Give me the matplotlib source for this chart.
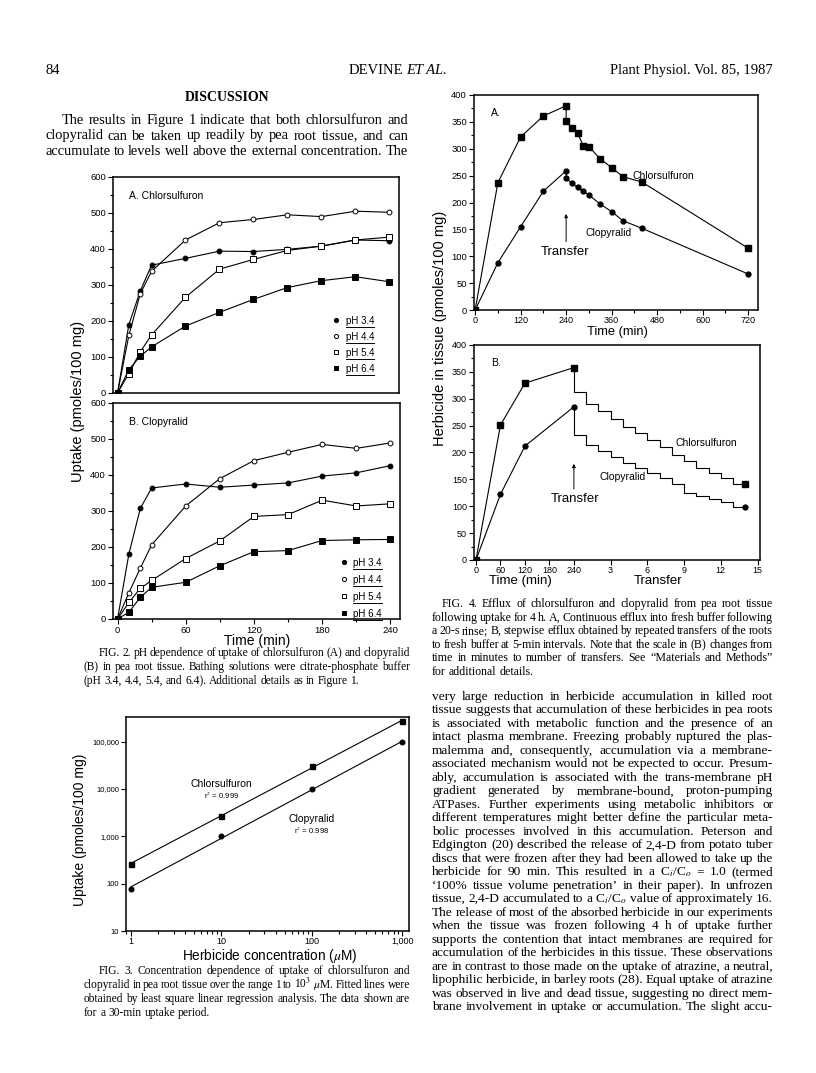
import matplotlib
matplotlib.use("Agg")
import matplotlib.pyplot as plt
import numpy as np
from matplotlib.lines import Line2D
from matplotlib.ticker import MultipleLocator, FuncFormatter, NullLocator, LogLocator, NullFormatter

plt.rcParams['font.family'] = ['Liberation Sans', 'DejaVu Sans']
plt.rcParams['mathtext.fontset'] = 'stix'
SERIF = ['Liberation Serif', 'DejaVu Serif']

# ---------------- data: Fig. 2 (uptake vs time, 4 pH values) ----------------
t2 = [0, 10, 20, 30, 60, 90, 120, 150, 180, 210, 240]
chl_ph34 = [0, 190, 283, 355, 374, 394, 393, 399, 408, 425, 423]
chl_ph44 = [0, 160, 275, 338, 425, 473, 482, 495, 490, 505, 502]
chl_ph54 = [0, 54, 114, 161, 266, 344, 371, 396, 408, 425, 433]
chl_ph64 = [0, 65, 102, 128, 186, 224, 260, 293, 312, 323, 309]
clo_ph34 = [0, 181, 307, 364, 375, 366, 372, 378, 397, 406, 426]
clo_ph44 = [0, 73, 141, 206, 314, 390, 440, 463, 485, 474, 489]
clo_ph54 = [0, 46, 85, 107, 168, 217, 285, 290, 330, 314, 320]
clo_ph64 = [0, 19, 60, 88, 102, 148, 187, 190, 218, 220, 221]
ph_labels = ["pH 3.4", "pH 4.4", "pH 5.4", "pH 6.4"]

# ---------------- data: Fig. 3 (concentration dependence) ----------------
conc = [1, 10, 100, 1000]
chl_conc = [260, 2700, 30000, 270000]
clo_conc = [78, 1000, 10000, 96000]

# ---------------- data: Fig. 4A (continuous efflux) ----------------
t4a = [0, 60, 120, 180, 240, 240, 255, 270, 285, 300, 330, 360, 390, 440, 720]
chl_4a = [0, 237, 322, 361, 380, 352, 338, 329, 306, 304, 281, 265, 248, 238, 115]
clo_4a = [0, 88, 155, 221, 259, 245, 236, 228, 221, 214, 197, 183, 166, 152, 67]

# ---------------- data: Fig. 4B (stepwise efflux) ----------------
t4b = [0, 60, 120, 240]
chl_4b_up = [0, 251, 329, 358]
clo_4b_up = [0, 122, 212, 285]
transfers = list(range(1, 15))
chl_4b_steps = [313, 290, 277, 262, 248, 236, 223, 210, 195, 184, 172, 161, 152, 141]
clo_4b_steps = [232, 214, 203, 191, 181, 172, 161, 152, 141, 125, 119, 113, 107, 99]

W, H = 816, 1073
fig = plt.figure(figsize=(W / 100, H / 100), dpi=100)
fig.patch.set_facecolor('white')
renderer = fig.canvas.get_renderer()


def px_axes(l, t, r, b):
    return fig.add_axes([l / W, 1 - b / H, (r - l) / W, (b - t) / H])


def ftext(x, y, s, **kw):
    return fig.text(x / W, 1 - y / H, s, **kw)


def word_widths(words, size, family):
    objs = [ftext(0, 0, w, fontsize=size, family=family) for w in words]
    ws = [o.get_window_extent(renderer).width for o in objs]
    for o in objs:
        o.remove()
    return ws


def justify_block(lines, x0, x1, y0, step, size, indent=0, last_free=True, family=SERIF, min_gap=1.8):
    # one font size for the whole block: the largest that lets every justified line fit
    n = len(lines)
    while True:
        ok = True
        for k, ln in enumerate(lines):
            if last_free and k == n - 1:
                continue
            words = ln.split(' ')
            free = x1 - x0 - (indent if k == 0 else 0) - sum(word_widths(words, size, family))
            if free / max(len(words) - 1, 1) < min_gap:
                ok = False
                break
        if ok:
            break
        size -= 0.1
    for k, ln in enumerate(lines):
        words = ln.split(' ')
        ws = word_widths(words, size, family)
        start = x0 + (indent if k == 0 else 0)
        if last_free and k == n - 1:
            gap = size * 100 / 72 * 0.25
        else:
            gap = (x1 - start - sum(ws)) / (len(words) - 1)
        x = start
        for w, wd in zip(words, ws):
            ftext(x, y0 + step * k, w, fontsize=size, family=family, va='baseline')
            x += wd + gap


def style_box(ax, lw=1.1, labelsize=6.8):
    for s in ax.spines.values():
        s.set_linewidth(lw)
    ax.tick_params(which='both', direction='out', top=False, right=False, labelsize=labelsize, width=0.8, pad=1.5)
    ax.tick_params(which='major', length=3.5)
    ax.tick_params(which='minor', length=2)


line_kw = dict(color='black', lw=0.8)
ms = 3.5

# ---------------- Fig. 2 ----------------
fig2_sets = [(chl_ph34, chl_ph44, chl_ph54, chl_ph64), (clo_ph34, clo_ph44, clo_ph54, clo_ph64)]
fig2_boxes = [(113, 177, 399, 393), (113, 403, 400, 619)]
fig2_titles = ["A. Chlorsulfuron", "B. Clopyralid"]
markers = [('o', 'black'), ('o', 'white'), ('s', 'white'), ('s', 'black')]
legend_pos = [(0.745, 0.38, 0.62), (0.77, 0.306, 0.72)]
legends = []
for i, (series, box) in enumerate(zip(fig2_sets, fig2_boxes)):
    ax = px_axes(*box)
    for vals, (m, fc) in zip(series, markers):
        ax.plot(t2, vals, marker=m, mfc=fc, mec='black', ms=ms if m == 'o' else ms + 0.3, mew=0.7, **line_kw)
    ax.set_xlim(-4, 248.5)
    ax.set_ylim(0, 600)
    ax.yaxis.set_major_locator(MultipleLocator(100))
    ax.yaxis.set_minor_locator(MultipleLocator(50))
    style_box(ax)
    if i == 0:
        ax.xaxis.set_major_locator(NullLocator())
    else:
        ax.xaxis.set_major_locator(MultipleLocator(60))
        ax.xaxis.set_minor_locator(MultipleLocator(30))
    ax.text(0.055, 0.9, fig2_titles[i], transform=ax.transAxes, fontsize=7.5)
    handles = [Line2D([], [], ls='none', marker=m, mfc=fc, mec='black', ms=3, mew=0.7) for m, fc in markers]
    lx, ly, sp = legend_pos[i]
    leg = ax.legend(handles, ph_labels, loc='upper left', bbox_to_anchor=(lx, ly), frameon=False,
                    borderpad=0, handlelength=1.0, handletextpad=0.5, labelspacing=sp, fontsize=7)
    legends.append(leg)

ftext(78, 401, "Uptake (pmoles/100 mg)", rotation=90, ha='center', va='center', fontsize=10.5)
ftext(257, 641, "Time (min)", ha='center', va='center', fontsize=10)

# ---------------- Fig. 3 ----------------
ax3 = px_axes(126, 717, 409, 931)
ax3.loglog(conc, chl_conc, ls='none', marker='s', color='black', ms=3.6)
ax3.loglog(conc, clo_conc, ls='none', marker='o', color='black', ms=3.3)
xfit = np.array([1, 1000])
for yv in (chl_conc, clo_conc):
    p = np.polyfit(np.log10(conc), np.log10(yv), 1)
    ax3.loglog(xfit, 10 ** np.polyval(p, np.log10(xfit)), **line_kw)
ax3.set_xlim(0.89, 1180)
ax3.set_ylim(10, 3.3e5)
style_box(ax3)
ax3.xaxis.set_major_locator(LogLocator(base=10, numticks=10))
ax3.xaxis.set_minor_locator(LogLocator(base=10, subs=np.arange(2, 10), numticks=10))
ax3.xaxis.set_minor_formatter(NullFormatter())
ax3.xaxis.set_major_formatter(FuncFormatter(lambda v, p: f"{int(round(v)):,}"))
ax3.yaxis.set_major_locator(LogLocator(base=10, numticks=10))
ax3.yaxis.set_minor_locator(NullLocator())
ax3.yaxis.set_major_formatter(FuncFormatter(lambda v, p: f"{int(round(v)):,}"))
ax3.tick_params(axis='y', labelsize=5.5)
ax3.tick_params(axis='x', labelsize=6.5, pad=1)
ax3.text(10, 12500, "Chlorsulfuron", ha='center', va='center', fontsize=7.5)
ax3.text(10, 7200, "r$^2$ = 0.999", ha='center', va='center', fontsize=5.5)
ax3.text(100, 2300, "Clopyralid", ha='center', va='center', fontsize=7.5)
ax3.text(100, 1350, "r$^2$ = 0.998", ha='center', va='center', fontsize=5.5)
ftext(270, 956, "Herbicide concentration ($\\mu$M)", ha='center', va='center', fontsize=9.8)
ftext(80, 830, "Uptake (pmoles/100 mg)", rotation=90, ha='center', va='center', fontsize=10)

# ---------------- Fig. 4A ----------------
ax4a = px_axes(474, 95, 758, 310)
ax4a.plot(t4a, chl_4a, marker='s', mfc='black', mec='black', ms=ms + 0.3, **line_kw)
ax4a.plot(t4a, clo_4a, marker='o', mfc='black', mec='black', ms=ms, **line_kw)
ax4a.set_xlim(-3, 746)
ax4a.set_ylim(0, 400)
style_box(ax4a)
ax4a.tick_params(axis='x', pad=1, labelsize=6.5)
ax4a.xaxis.set_major_locator(MultipleLocator(120))
ax4a.xaxis.set_minor_locator(MultipleLocator(60))
ax4a.yaxis.set_major_locator(MultipleLocator(50))
ax4a.yaxis.set_minor_locator(MultipleLocator(25))
ax4a.text(0.06, 0.9, "A.", transform=ax4a.transAxes, fontsize=7.5)
ax4a.text(416, 249, "Chlorsulfuron", fontsize=7.5, va='center')
ax4a.text(290, 143, "Clopyralid", fontsize=7.5, va='center')
ax4a.text(237, 108, "Transfer", fontsize=9.5, ha='center', va='center')
ax4a.annotate("", xy=(240, 184), xytext=(240, 122),
              arrowprops=dict(arrowstyle='-|>', color='black', lw=0.7, mutation_scale=5))
ftext(617, 331.5, "Time (min)", ha='center', va='center', fontsize=9.3)

# ---------------- Fig. 4B ----------------
ax4b = px_axes(474, 345, 760, 560)
min_per_unit = 30.0
xb_up = [t / min_per_unit for t in t4b]
x0 = t4b[-1] / min_per_unit
ax4b.plot(xb_up, chl_4b_up, marker='s', mfc='black', mec='black', ms=ms + 0.3, **line_kw)
ax4b.plot(xb_up, clo_4b_up, marker='o', mfc='black', mec='black', ms=ms, **line_kw)
for up, steps, m in ((chl_4b_up, chl_4b_steps, 's'), (clo_4b_up, clo_4b_steps, 'o')):
    xs = [x0, x0] + [x0 + n for n in transfers]
    ys = [up[-1]] + steps + [steps[-1]]
    ax4b.step(xs, ys, where='post', **line_kw)
    ax4b.plot([x0 + transfers[-1]], [steps[-1]], ls='none', marker=m, color='black', ms=ms + (0.3 if m == 's' else 0))
ax4b.set_xlim(-0.16, 23.2)
ax4b.set_ylim(0, 400)
style_box(ax4b, labelsize=6.5)
tick_pos = [t / min_per_unit for t in (0, 60, 120, 180, 240)] + [x0 + n for n in (3, 6, 9, 12, 15)]
tick_lab = ["0", "60", "120", "180", "240", "3", "6", "9", "12", "15"]
ax4b.set_xticks(tick_pos)
ax4b.set_xticklabels(tick_lab)
ax4b.tick_params(axis='x', pad=1)
ax4b.yaxis.set_major_locator(MultipleLocator(50))
ax4b.yaxis.set_minor_locator(MultipleLocator(25))
ax4b.text(0.06, 0.9, "B.", transform=ax4b.transAxes, fontsize=7.5)
ax4b.text(16.3, 217, "Chlorsulfuron", fontsize=7.5, va='center')
ax4b.text(10.1, 155, "Clopyralid", fontsize=7.5, va='center')
ax4b.text(x0 + 0.1, 114, "Transfer", fontsize=9.5, ha='center', va='center')
ax4b.annotate("", xy=(x0, 184), xytext=(x0, 127),
              arrowprops=dict(arrowstyle='-|>', color='black', lw=0.7, mutation_scale=5))
ftext(520, 581, "Time (min)", ha='center', va='center', fontsize=9.5)
ftext(658, 581, "Transfer", ha='center', va='center', fontsize=9.5)
ftext(440, 328, "Herbicide in tissue (pmoles/100 mg)", rotation=90, ha='center', va='center', fontsize=10.5)

# ---------------- page text ----------------
ftext(45, 74, "84", fontsize=10.5, family=SERIF)
ftext(403, 74, "DEVINE", fontsize=10.5, family=SERIF, ha='right')
ftext(406, 74, "ET AL.", fontsize=10.5, family=SERIF, ha='left', style='italic')
ftext(773, 74, "Plant Physiol. Vol. 85, 1987", fontsize=10.5, family=SERIF, ha='right')
ftext(227, 101, "DISCUSSION", fontsize=10, family=SERIF, ha='center', weight='bold')

para1 = ["The results in Figure 1 indicate that both chlorsulfuron and",
         "clopyralid can be taken up readily by pea root tissue, and can",
         "accumulate to levels well above the external concentration. The"]
justify_block(para1, 45, 408, 124, 15.5, 10.4, indent=17, last_free=False)

cap2 = ["FIG. 2. pH dependence of uptake of chlorsulfuron (A) and clopyralid",
        "(B) in pea root tissue. Bathing solutions were citrate-phosphate buffer",
        "(pH 3.4, 4.4, 5.4, and 6.4). Additional details as in Figure 1."]
justify_block(cap2, 84, 410, 656, 14, 8.6, indent=15)

cap3 = ["FIG. 3. Concentration dependence of uptake of chlorsulfuron and",
        "clopyralid in pea root tissue over the range 1 to 10$^3$ $\\mu$M. Fitted lines were",
        "obtained by least square linear regression analysis. The data shown are",
        "for a 30-min uptake period."]
justify_block(cap3, 84, 410, 974, 14, 8.6, indent=15)

cap4 = ["FIG. 4. Efflux of chlorsulfuron and clopyralid from pea root tissue",
        "following uptake for 4 h. A, Continuous efflux into fresh buffer following",
        "a 20-s rinse; B, stepwise efflux obtained by repeated transfers of the roots",
        "to fresh buffer at 5-min intervals. Note that the scale in (B) changes from",
        "time in minutes to number of transfers. See \u201cMaterials and Methods\u201d",
        "for additional details."]
justify_block(cap4, 432, 773, 607, 13.6, 8.9, indent=10)

body = ["very large reduction in herbicide accumulation in killed root",
        "tissue suggests that accumulation of these herbicides in pea roots",
        "is associated with metabolic function and the presence of an",
        "intact plasma membrane. Freezing probably ruptured the plas-",
        "malemma and, consequently, accumulation via a membrane-",
        "associated mechanism would not be expected to occur. Presum-",
        "ably, accumulation is associated with the trans-membrane pH",
        "gradient generated by membrane-bound, proton-pumping",
        "ATPases. Further experiments using metabolic inhibitors or",
        "different temperatures might better define the particular meta-",
        "bolic processes involved in this accumulation. Peterson and",
        "Edgington (20) described the release of 2,4-D from potato tuber",
        "discs that were frozen after they had been allowed to take up the",
        "herbicide for 90 min. This resulted in a C$_i$/C$_o$ = 1.0 (termed",
        "\u2018100% tissue volume penetration\u2019 in their paper). In unfrozen",
        "tissue, 2,4-D accumulated to a C$_i$/C$_o$ value of approximately 16.",
        "The release of most of the absorbed herbicide in our experiments",
        "when the tissue was frozen following 4 h of uptake further",
        "supports the contention that intact membranes are required for",
        "accumulation of the herbicides in this tissue. These observations",
        "are in contrast to those made on the uptake of atrazine, a neutral,",
        "lipophilic herbicide, in barley roots (28). Equal uptake of atrazine",
        "was observed in live and dead tissue, suggesting no direct mem-",
        "brane involvement in uptake or accumulation. The slight accu-"]
justify_block(body, 432, 773, 700, 13.48, 9.7, last_free=False)

# underline the pH legend entries
fig.canvas.draw()
for leg in legends:
    for t in leg.get_texts():
        bb = t.get_window_extent(renderer)
        fig.add_artist(Line2D([bb.x0 / W, bb.x1 / W], [(bb.y0 - 1) / H] * 2, color='black', lw=0.7))

fig.savefig("out.png", dpi=100, facecolor='white')
